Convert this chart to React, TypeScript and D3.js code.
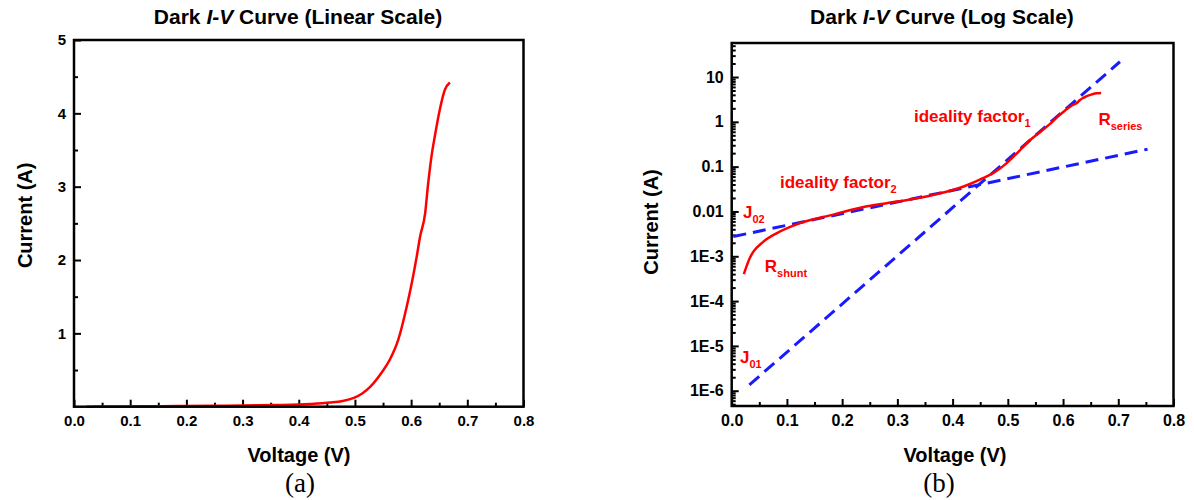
import React, { useEffect, useRef } from 'react'
import * as d3 from 'd3'

const voltage = [0.022, 0.033, 0.039, 0.057, 0.082, 0.124, 0.184, 0.245, 0.30, 0.359, 0.42, 0.456, 0.478, 0.498, 0.513, 0.527, 0.547, 0.562, 0.577, 0.592, 0.601, 0.610, 0.616, 0.625, 0.630, 0.636, 0.642, 0.651, 0.660, 0.669]
const current = [4.0e-4, 9.3e-4, 1.25e-3, 2.1e-3, 3.3e-3, 5.5e-3, 8.5e-3, 0.013, 0.0166, 0.0224, 0.036, 0.056, 0.078, 0.12, 0.18, 0.27, 0.46, 0.64, 0.91, 1.36, 1.68, 2.05, 2.32, 2.64, 3.02, 3.40, 3.68, 4.05, 4.32, 4.42]

// fitted diode lines on the log plot (end points)
const fit1Voltage = [0.032, 0.703]
const fit1Current = [1.35e-6, 21.9]
const fit2Voltage = [0.003, 0.753]
const fit2Current = [2.75e-3, 0.245]

const xTicks = [0, 0.1, 0.2, 0.3, 0.4, 0.5, 0.6, 0.7, 0.8]
const linYTicks = [1, 2, 3, 4, 5]
const logYTicks = [10, 1, 0.1, 0.01, 1e-3, 1e-4, 1e-5, 1e-6]
const logYLabels = ['10', '1', '0.1', '0.01', '1E-3', '1E-4', '1E-5', '1E-6']

// annotations on the log plot: [main, subscript, voltage, current]
const notes: [string, string, number, number][] = [
  ['J', '02', 0.0205, 7.1e-3],
  ['J', '01', 0.015, 4.1e-6],
  ['R', 'shunt', 0.060, 4.4e-4],
  ['ideality factor', '2', 0.0875, 0.0333],
  ['ideality factor', '1', 0.330, 0.99],
  ['R', 'series', 0.664, 0.85],
]

const FONT = '"Liberation Sans", Arial, Helvetica, sans-serif'

const styleAxis = (size: number) => (g: any) => {
  g.select('.domain').remove()
  g.attr('font-family', FONT).attr('font-size', size).attr('font-weight', 'bold')
  g.selectAll('line').attr('stroke', '#000').attr('stroke-width', 2)
  g.selectAll('text').attr('fill', '#000')
}

export default function App() {
  const ref = useRef<SVGSVGElement>(null)

  useEffect(() => {
    const svg = d3.select(ref.current)
    svg.selectAll('*').remove()
    svg.attr('font-family', FONT)

    const pts = voltage.map((v, i) => ({ v, i: current[i] }))
    const xMinor = d3.range(0.05, 0.8, 0.1)

    const title = (x: number, y: number, rest: string) => {
      const t = svg.append('text').attr('x', x).attr('y', y).attr('text-anchor', 'middle')
        .attr('font-size', 21).attr('font-weight', 'bold')
      t.append('tspan').text('Dark ')
      t.append('tspan').attr('font-style', 'italic').text('I-V')
      t.append('tspan').text(rest)
    }

    // ---------------- (a) linear scale
    const xa = d3.scaleLinear().domain([0, 0.8]).range([74, 523.5])
    const ya = d3.scaleLinear().domain([0, 5]).range([406.7, 40])
    const ga = svg.append('g')

    ga.append('g').attr('transform', `translate(0,${ya(0)})`)
      .call(d3.axisBottom(xa).tickValues(xMinor).tickSize(-4).tickFormat(() => '') as any)
      .call(styleAxis(15))
    ga.append('g').attr('transform', `translate(0,${ya(0)})`)
      .call(d3.axisBottom(xa).tickValues(xTicks).tickSize(-7).tickPadding(9).tickFormat(d3.format('.1f')) as any)
      .call(styleAxis(15))
    ga.append('g').attr('transform', `translate(${xa(0)},0)`)
      .call(d3.axisLeft(ya).tickValues(d3.range(0.5, 5, 1)).tickSize(-4).tickFormat(() => '') as any)
      .call(styleAxis(15))
    ga.append('g').attr('transform', `translate(${xa(0)},0)`)
      .call(d3.axisLeft(ya).tickValues(linYTicks).tickSize(-7).tickPadding(8).tickFormat(d3.format('d')) as any)
      .call(styleAxis(15))

    ga.append('path')
      .datum(pts)
      .attr('fill', 'none')
      .attr('stroke', '#ff0000')
      .attr('stroke-width', 2.5)
      .attr('stroke-linejoin', 'round')
      .attr('d', d3.line<any>().x(d => xa(d.v)).y(d => ya(d.i)).curve(d3.curveMonotoneX))

    ga.append('rect')
      .attr('x', xa(0)).attr('y', ya(5))
      .attr('width', xa(0.8) - xa(0)).attr('height', ya(0) - ya(5))
      .attr('fill', 'none').attr('stroke', '#000').attr('stroke-width', 2.5)

    title(298, 24, ' Curve (Linear Scale)')
    svg.append('text').attr('x', 299).attr('y', 462).attr('text-anchor', 'middle')
      .attr('font-size', 20).attr('font-weight', 'bold').text('Voltage (V)')
    svg.append('text').attr('transform', `translate(32,${(ya(0) + ya(5)) / 2 - 8}) rotate(-90)`)
      .attr('text-anchor', 'middle').attr('font-size', 20).attr('font-weight', 'bold').text('Current (A)')
    svg.append('text').attr('x', 300).attr('y', 492).attr('text-anchor', 'middle')
      .attr('font-family', '"Liberation Serif", "Times New Roman", serif').attr('font-size', 27).text('(a)')

    // ---------------- (b) log scale
    const xb = d3.scaleLinear().domain([0, 0.8]).range([731.7, 1173.5])
    const yb = d3.scaleLog().domain([4.56e-7, 57.4]).range([406, 43])
    const gb = svg.append('g')

    const logMinor: number[] = []
    for (let e = -7; e <= 1; e++) {
      for (let k = 2; k <= 9; k++) {
        const v = k * Math.pow(10, e)
        if (v >= 4.56e-7 && v <= 57.4) logMinor.push(v)
      }
    }

    gb.append('g').attr('transform', `translate(0,${yb.range()[0]})`)
      .call(d3.axisBottom(xb).tickValues(xMinor).tickSize(-4).tickFormat(() => '') as any)
      .call(styleAxis(16))
    gb.append('g').attr('transform', `translate(0,${yb.range()[0]})`)
      .call(d3.axisBottom(xb).tickValues(xTicks).tickSize(-7).tickPadding(9).tickFormat(d3.format('.1f')) as any)
      .call(styleAxis(16))
    gb.append('g').attr('transform', `translate(${xb(0)},0)`)
      .call(d3.axisLeft(yb).tickValues(logMinor).tickSize(-4).tickFormat(() => '') as any)
      .call(styleAxis(16))
    gb.append('g').attr('transform', `translate(${xb(0)},0)`)
      .call(d3.axisLeft(yb).tickValues(logYTicks).tickSize(-7).tickPadding(8)
        .tickFormat((d: any) => logYLabels[logYTicks.indexOf(d)]) as any)
      .call(styleAxis(16))

    const fitLine = d3.line<number>().x(d => xb(d))
    ;[[fit1Voltage, fit1Current], [fit2Voltage, fit2Current]].forEach(([vs, is]) => {
      gb.append('path')
        .datum(vs)
        .attr('fill', 'none')
        .attr('stroke', '#1a1aff')
        .attr('stroke-width', 3)
        .attr('stroke-dasharray', '13,7')
        .attr('d', fitLine.y((d, i) => yb(is[i]))(vs))
    })

    gb.append('path')
      .datum(pts)
      .attr('fill', 'none')
      .attr('stroke', '#ff0000')
      .attr('stroke-width', 2.5)
      .attr('stroke-linejoin', 'round')
      .attr('d', d3.line<any>().x(d => xb(d.v)).y(d => yb(d.i)).curve(d3.curveMonotoneX))

    gb.append('rect')
      .attr('x', xb(0)).attr('y', yb.range()[1])
      .attr('width', xb(0.8) - xb(0)).attr('height', yb.range()[0] - yb.range()[1])
      .attr('fill', 'none').attr('stroke', '#000').attr('stroke-width', 2.5)

    notes.forEach(([main, sub, v, i]) => {
      const t = gb.append('text').attr('x', xb(v)).attr('y', yb(i))
        .attr('fill', '#ff0000').attr('font-weight', 'bold').attr('font-size', 17)
      t.append('tspan').text(main)
      t.append('tspan').attr('font-size', 11).attr('dy', 5).text(sub)
    })

    title(942, 24, ' Curve (Log Scale)')
    svg.append('text').attr('x', 955).attr('y', 462).attr('text-anchor', 'middle')
      .attr('font-size', 20).attr('font-weight', 'bold').text('Voltage (V)')
    svg.append('text').attr('transform', `translate(658,222) rotate(-90)`)
      .attr('text-anchor', 'middle').attr('font-size', 20).attr('font-weight', 'bold').text('Current (A)')
    svg.append('text').attr('x', 939).attr('y', 492).attr('text-anchor', 'middle')
      .attr('font-family', '"Liberation Serif", "Times New Roman", serif').attr('font-size', 27).text('(b)')
  }, [])

  return (
    <svg ref={ref} width={1194} height={500}
      style={{ position: 'absolute', left: 0, top: 0, background: '#fff' }} />
  )
}
